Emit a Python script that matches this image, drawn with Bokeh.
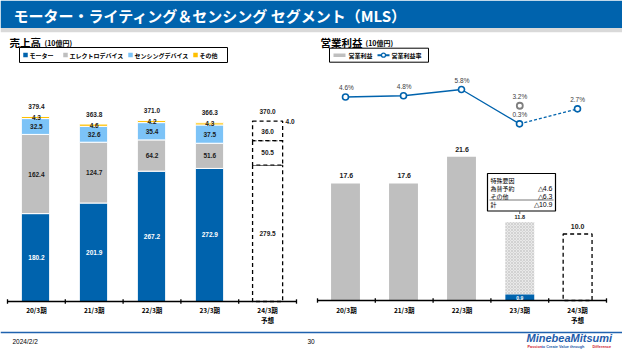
import numpy as np
from bokeh.plotting import figure
from bokeh.models import Range1d
from bokeh.core.properties import value
from bokeh.embed import file_html
from bokeh.resources import INLINE

# ---------------- data ----------------
periods = ["20/3期", "21/3期", "22/3期", "23/3期", "24/3期"]
period_notes = ["", "", "", "", "予想"]
motor = [180.2, 201.9, 267.2, 272.9, 279.5]
electro = [162.4, 124.7, 64.2, 51.6, 50.5]
sensing = [32.5, 32.6, 35.4, 37.5, 36.0]
other = [4.3, 4.6, 4.2, 4.3, 4.0]
sales_total = [379.4, 363.8, 371.0, 366.3, 370.0]
sales_legend = ["モーター", "エレクトロデバイス", "センシングデバイス", "その他"]

op_income = [17.6, 17.6, 21.6, 11.8, 10.0]          # 23/3 excl. special factors
op_margin = [4.6, 4.8, 5.8, 0.3, 2.7]
op_margin_excl_special = 3.2
special_labels = ["為替予約", "その他", "計"]
special_values = [-4.6, -6.3, -10.9]
op_legend = ["営業利益", "営業利益率"]

# ---------------- styles ----------------
BLUE = "#0063AD"
GRAY = "#BFBFBF"
LBLUE = "#7CC3F7"
YEL = "#FFC000"
JP = "Noto Sans CJK JP"
LAT = "Liberation Sans"
TXT = "#1a1a1a"

p = figure(width=622, height=350, x_range=Range1d(0, 622), y_range=Range1d(350, 0),
           output_backend="svg", toolbar_location=None, x_axis_type=None, y_axis_type=None,
           min_border=0, outline_line_color=None, background_fill_color="white",
           border_fill_color="white")


def ptext(api, x, y, s, size, color="black", style="normal", align="left", font=JP,
          baseline="middle", y_offset=0, x_offset=0):
    return api.text(x=x, y=y, text=s, text_font=value(font), text_font_size=f"{size}px",
                    text_color=color, text_font_style=style, text_align=align,
                    text_baseline=baseline, y_offset=y_offset, x_offset=x_offset)


# ---------------- page decorations ----------------
p.quad(left=[0], right=[622], top=[0], bottom=[27.5], fill_color=BLUE, line_color=None)
p.quad(left=[0], right=[622], top=[27.5], bottom=[31.7], fill_color="#D9D9D9", line_color=None)
ptext(p, [13], [14.5], ["モーター・ライティング＆センシング セグメント（MLS）"], 15, "white", "bold")

ptext(p, [9], [41.5], ["売上高"], 10.5, "black", "bold")
ptext(p, [44], [42.5], ["(10億円)"], 7, "black", "bold")
ptext(p, [320], [41.5], ["営業利益"], 10.5, "black", "bold")
ptext(p, [365], [42.5], ["(10億円)"], 7, "black", "bold")

# footer
p.segment(x0=[0], x1=[622], y0=[332], y1=[332], line_color="#1F62AE", line_width=1.5)
ptext(p, [12], [340.5], ["2024/2/2"], 6.5, "black", font=LAT)
ptext(p, [307], [340.5], ["30"], 6.5, "black", font=LAT)
ptext(p, [526], [337.5], ["MinebeaMitsumi"], 11, "#1E5BAA", "bold italic", font=LAT)
ptext(p, [527], [346], ["Passion"], 3.8, "#D0202E", "bold", font=LAT)
ptext(p, [541], [346], ["to Create Value through"], 3.8, "#1E5BAA", "bold", font=LAT)
ptext(p, [592], [346], ["Difference"], 3.8, "#D0202E", "bold", font=LAT)

# ---------------- left legend ----------------
p.quad(left=[19], right=[227], top=[47], bottom=[62], fill_color="white", line_color="black",
       line_width=1)
leg_x = [23, 63, 128, 193]
p.scatter(x=[v + 2 for v in leg_x], y=[54.5] * 4, marker="square", size=4.5,
          fill_color=[BLUE, GRAY, LBLUE, YEL], line_color=None)
ptext(p, [v + 6 for v in leg_x], [54.7] * 4, sales_legend, 6, "black", "bold")

# ---------------- right legend ----------------
p.quad(left=[329], right=[428], top=[47.7], bottom=[61.7], fill_color="white",
       line_color="black", line_width=1)
p.segment(x0=[333], x1=[345], y0=[54.7], y1=[54.7], line_color=GRAY, line_width=3.5)
p.segment(x0=[377], x1=[389], y0=[54.7], y1=[54.7], line_color=BLUE, line_width=2)
p.scatter(x=[383], y=[54.7], marker="circle", size=4, fill_color="white", line_color=BLUE,
          line_width=1.2)
ptext(p, [348, 391], [54.9, 54.9], op_legend, 6, "black", "bold")

# ---------------- left chart: sales ----------------
n = len(periods)
x = np.arange(n)
fc = n - 1  # forecast index
act = x[:fc]
m = np.array(motor)
e = np.array(electro)
s = np.array(sensing)
o = np.array(other)
b1 = m
b2 = m + e
b3 = b2 + s
b4 = b3 + o

L = p.subplot(x_source=Range1d(-0.5, n - 0.5), y_source=Range1d(0, 400),
              x_target=Range1d(7, 296), y_target=Range1d(301, 301 - 400 * 0.4877))

for bot, top, col in [(np.zeros(n), b1, BLUE), (b1, b2, GRAY), (b2, b3, LBLUE), (b3, b4, YEL)]:
    L.vbar(x=act, bottom=bot[:fc], top=top[:fc], width=0.49, fill_color=col,
           line_color="white", line_width=1)

# forecast dashed bar
L.vbar(x=[x[fc]] * 3, bottom=[0, b1[fc], b2[fc]], top=[b1[fc], b2[fc], b4[fc]], width=0.52,
       fill_color="white", line_color="black", line_dash="4 3", line_width=1.3)

# axis
L.segment(x0=[-0.5], x1=[n - 0.5], y0=[0], y1=[0], line_color="black", line_width=1.5)
ticks = np.arange(n + 1) - 0.5
ptext(L, list(x), [0] * n, periods, 6.5, "black", "bold", "center", y_offset=8.5)
ptext(L, list(x), [0] * n, period_notes, 6.5, "black", "bold", "center", y_offset=18.5)
L.segment(x0=ticks, x1=ticks, y0=[0] * (n + 1), y1=[0] * (n + 1), line_color="black",
          line_width=1.3)
for tx in ticks:
    L.segment(x0=[tx], x1=[tx], y0=[-4.5], y1=[4.5], line_color="black", line_width=1.3)

# segment labels
mcol = ["white"] * fc + [TXT]
ptext(L, list(x), list(b1 / 2), [f"{v:.1f}" for v in m], 6.5, mcol, "bold", "center", font=LAT)
ptext(L, list(x), list(b1 + e / 2), [f"{v:.1f}" for v in e], 6.5, TXT, "bold", "center", font=LAT)
ptext(L, list(x), list(b2 + s / 2), [f"{v:.1f}" for v in s], 6.5, TXT, "bold", "center", font=LAT)
ptext(L, list(act), list((b3 + o / 2)[:fc]), [f"{v:.1f}" for v in o[:fc]], 6.5, TXT, "bold",
      "center", font=LAT)
ptext(L, [x[fc] + 0.31], [b3[fc] + o[fc] / 2 + 2], [f"{o[fc]:.1f}"], 6.5, TXT, "bold", "left",
      font=LAT)
ptext(L, list(x), sales_total, [f"{v:.1f}" for v in sales_total], 6.5, TXT, "bold", "center",
      font=LAT, y_offset=-10)

# ---------------- right chart: operating income ----------------
oi = np.array(op_income)
reported = oi[3] + special_values[-1]   # 0.9

R = p.subplot(x_source=Range1d(-0.5, n - 0.5), y_source=Range1d(0, 30),
              x_target=Range1d(317, 606), y_target=Range1d(300, 300 - 30 * 6.65))
RL = p.subplot(x_source=Range1d(-0.5, n - 0.5), y_source=Range1d(0, 10),
               x_target=Range1d(317, 606), y_target=Range1d(125.2, 125.2 - 62.4))

R.vbar(x=x[:3], bottom=0, top=oi[:3], width=0.5, fill_color=GRAY, line_color=None)
R.vbar(x=[x[3]], bottom=[reported], top=[oi[3]], width=0.5, fill_color="#E9E9E9",
       line_color=None, hatch_pattern="diagonal_cross", hatch_color="#C9C9C9",
       hatch_scale=3, hatch_weight=0.7)
R.vbar(x=[x[3]], bottom=[0], top=[reported], width=0.5, fill_color=BLUE, line_color=None)
R.vbar(x=[x[fc]], bottom=[0], top=[oi[fc]], width=0.5, fill_color="white",
       line_color="black", line_dash="4 3", line_width=1.3)

R.segment(x0=[-0.5], x1=[n - 0.5], y0=[0], y1=[0], line_color="black", line_width=1.5)
for tx in ticks:
    R.segment(x0=[tx], x1=[tx], y0=[-0.33], y1=[0.33], line_color="black", line_width=1.3)
ptext(R, list(x), [0] * n, periods, 6.5, "black", "bold", "center", y_offset=9)
ptext(R, list(x), [0] * n, period_notes, 6.5, "black", "bold", "center", y_offset=19)

idx_big = [0, 1, 2, 4]
ptext(R, [x[i] for i in idx_big], [oi[i] for i in idx_big],
      [f"{oi[i]:.1f}" for i in idx_big], 7, TXT, "bold", "center", font=LAT, y_offset=-7.5)
ptext(R, [x[3]], [oi[3]], [f"{oi[3]:.1f}"], 5.5, TXT, "bold", "center", font=LAT, y_offset=-5)
ptext(R, [x[3]], [reported / 2], [f"{reported:.1f}"], 5, "white", "bold", "center", font=LAT)

# margin line
om = np.array(op_margin)
RL.line(x=x[:4], y=om[:4], line_color=BLUE, line_width=1.4)
RL.line(x=x[3:], y=om[3:], line_color=BLUE, line_width=1.4, line_dash="3 2")
RL.scatter(x=x, y=om, marker="circle", size=6, fill_color="white", line_color=BLUE,
           line_width=1.6)
RL.scatter(x=[x[3]], y=[op_margin_excl_special], marker="circle", size=6, fill_color="white",
           line_color="#7F7F7F", line_width=1.8)
ptext(RL, list(x), list(om), [f"{v:.1f}%" for v in om], 6.5, "#404040", "normal", "center",
      font=LAT, y_offset=-9)
ptext(RL, [x[3]], [op_margin_excl_special], [f"{op_margin_excl_special:.1f}%"], 6.5, "#404040",
      "normal", "center", font=LAT, y_offset=-9)

# special factors box
bx0, bx1, by0, by1 = 487, 555, 173, 210.5
p.quad(left=[bx0], right=[bx1], top=[by0], bottom=[by1], fill_color="white",
       line_color="black", line_width=1.2)
p.segment(x0=[519.3], x1=[519.3], y0=[by1], y1=[by1 + 3], line_color="#555555", line_width=1)
ptext(p, [bx0 + 3], [by0 + 6.5], ["特殊要因"], 6, "black")
ptext(p, [bx0 + 3] * 3, [by0 + 14.8, by0 + 23.1, by0 + 31.4], special_labels, 6, "black")
ptext(p, [bx1 - 3] * 3, [by0 + 14.8, by0 + 23.1, by0 + 31.4],
      [f"△{abs(v):.1f}" for v in special_values], 7, "black", "normal", "right", font=LAT)
p.segment(x0=[bx0 + 2], x1=[bx1 - 2], y0=[by0 + 26.5], y1=[by0 + 26.5], line_color="#555555",
          line_width=0.8)

open("out.html", "w").write(file_html(p, INLINE))
